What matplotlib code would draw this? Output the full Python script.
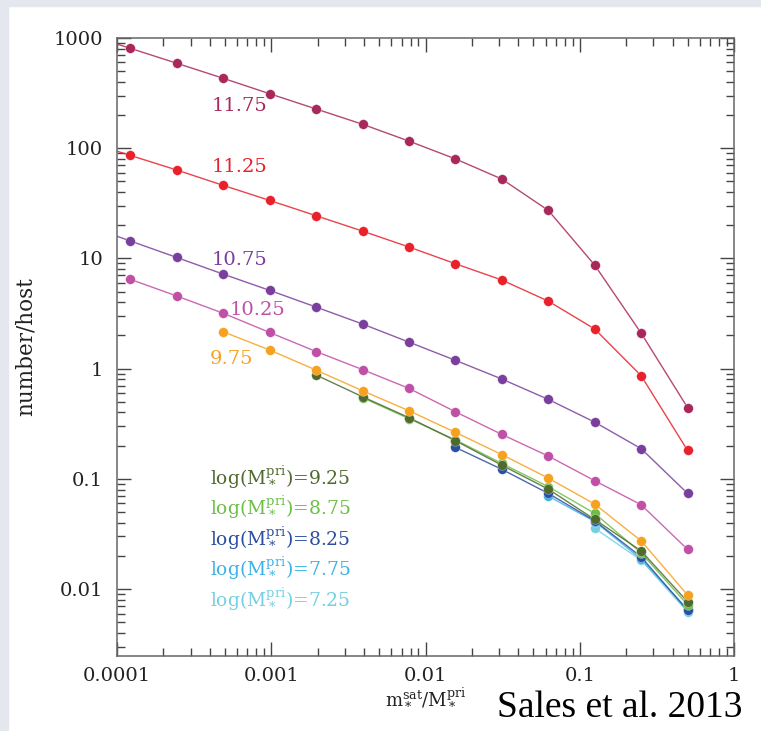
import numpy as np
import matplotlib
matplotlib.use("Agg")
import matplotlib.pyplot as plt
from matplotlib.patches import Rectangle

plt.rcParams['font.family'] = ['DejaVu Serif']
plt.rcParams['mathtext.fontset'] = 'dejavuserif'

#------------------------------DATA--------------------------------------------
# satellite / primary stellar mass ratio: 2^-14 ... 2^-1
mass_ratio = [2.0**-k for k in range(14, 0, -1)]

mpri_labels = ['11.75', '11.25', '10.75', '10.25', '9.75',
               '9.25', '8.75', '8.25', '7.75', '7.25']
colors = ['#a8285c', '#e8212b', '#7a3f9c', '#c04fa6', '#f6a11f',
          '#4f6a2d', '#6bbf48', '#2c4ea0', '#3cb3e6', '#74cfe3']

# number of satellites per host (None = no point)
n_1175 = [1100, 806, 590, 431, 312, 227, 165, 116, 80, 52.5, 27.3, 8.7, 2.1, 0.443]
n_1125 = [117, 86, 63.4, 46, 33.6, 24.4, 17.7, 12.7, 8.95, 6.37, 4.1, 2.29, 0.863, 0.181]
n_1075 = [20.3, 14.4, 10.2, 7.2, 5.13, 3.62, 2.54, 1.74, 1.19, 0.805, 0.526, 0.327, 0.188, 0.0738]
n_1025 = [None, 6.46, 4.56, 3.18, 2.13, 1.43, 0.98, 0.662, 0.406, 0.253, 0.161, 0.0962, 0.0582, 0.0229]
n_975 = [None, None, None, 2.16, 1.475, 0.97, 0.63, 0.415, 0.264, 0.166, 0.1016, 0.059, 0.0274, 0.00883]
n_925 = [None, None, None, None, None, 0.875, 0.556, 0.359, 0.222, 0.133, 0.0807, 0.0428, 0.0222, 0.00767]
n_875 = [None, None, None, None, None, None, 0.545, 0.352, 0.226, 0.138, 0.085, 0.0486, 0.0213, 0.0072]
n_825 = [None, None, None, None, None, None, None, None, 0.193, 0.122, 0.0738, 0.0417, 0.0196, 0.0064]
n_775 = [None, None, None, None, None, None, None, None, None, None, 0.0698, 0.041, 0.0187, 0.00655]
n_725 = [None, None, None, None, None, None, None, None, None, None, None, 0.0356, 0.0183, 0.0062]

series = [n_1175, n_1125, n_1075, n_1025, n_975, n_925, n_875, n_825, n_775, n_725]
#---------------------------------END DATA-------------------------------------

fig = plt.figure(figsize=(7.61, 7.31), dpi=100)
fig.patch.set_facecolor('white')
# marbled frame strip along left and top edge
fig.patches.append(Rectangle((0, 0), 8/761, 1, transform=fig.transFigure,
                             color='#e4e8ee', zorder=0))
fig.patches.append(Rectangle((0, 1 - 6/731), 1, 6/731, transform=fig.transFigure,
                             color='#e4e8ee', zorder=0))

ax = fig.add_axes([117/761, 75/731, 617/761, 618/731])

# draw low masses first so higher ones sit on top
for vals, col in list(zip(series, colors))[::-1]:
    xs = [x for x, v in zip(mass_ratio, vals) if v is not None]
    ys = [v for v in vals if v is not None]
    ax.plot(xs, ys, '-', color=col, lw=1.0, alpha=0.85)
    ax.plot(xs, ys, 'o', color=col, ms=7, mec=(1, 1, 1, 0.5), mew=0.4)

ax.set_xscale('log')
ax.set_yscale('log')
ax.set_xlim(1e-4, 1)
ax.set_ylim(0.00247, 1000)

ax.set_xticks([1e-4, 1e-3, 1e-2, 1e-1, 1])
ax.set_xticklabels(['0.0001', '0.001', '0.01', '0.1', '1'])
ax.set_yticks([0.01, 0.1, 1, 10, 100, 1000])
ax.set_yticklabels(['0.01', '0.1', '1', '10', '100', '1000'])
ax.yaxis.set_minor_formatter(matplotlib.ticker.NullFormatter())
ax.xaxis.set_minor_formatter(matplotlib.ticker.NullFormatter())

for s in ax.spines.values():
    s.set_color('#666666')
    s.set_linewidth(1.1)
ax.tick_params(which='both', direction='in', top=True, right=True,
               color='#444444', labelsize=14, labelcolor='#222222')
ax.tick_params(which='major', length=10, width=1.0)
ax.tick_params(which='minor', length=5.5, width=1.0)
ax.tick_params(axis='y', which='major', pad=10)
ax.tick_params(axis='x', which='major', pad=8)

ax.set_ylabel('number/host', fontsize=15.5, color='#222222', labelpad=12)
ax.set_xlabel(r'm$_*^{\rm sat}$/M$_*^{\rm pri}$', fontsize=13, color='#222222', labelpad=1)

# series labels on the plot
label_pos = [(0.154, 0.890), (0.154, 0.791), (0.154, 0.641), (0.183, 0.560), (0.151, 0.481)]
for (lx, ly), lab, col in zip(label_pos, mpri_labels[:5], colors[:5]):
    ax.text(lx, ly, lab, color=col, fontsize=14, transform=ax.transAxes,
            ha='left', va='center')

# legend-like text for the low mass hosts
for i, (lab, col) in enumerate(zip(mpri_labels[5:], colors[5:])):
    ax.text(0.151, 0.2896 - i*0.0494, r'log(M$_*^{\rm pri}$)=' + lab, color=col,
            fontsize=13.5, transform=ax.transAxes, ha='left', va='center')

fig.text(497/761, 1 - 717/731, 'Sales et al. 2013', fontsize=27,
         family='Liberation Serif', ha='left', va='baseline', color='black')

fig.savefig('out.png', dpi=100, facecolor=fig.get_facecolor())
